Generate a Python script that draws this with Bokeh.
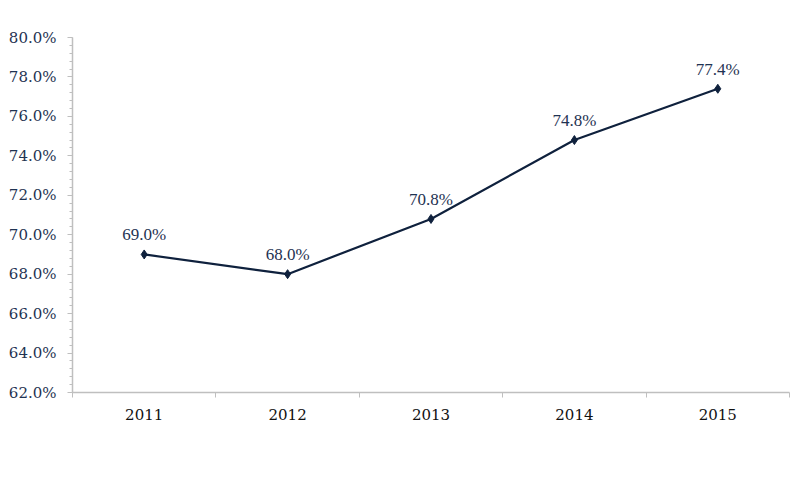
from bokeh.plotting import figure
from bokeh.models import Range1d, FixedTicker, ColumnDataSource, LabelSet, PrintfTickFormatter
from bokeh.embed import file_html
from bokeh.resources import INLINE

years = ["2011", "2012", "2013", "2014", "2015"]
values = [69.0, 68.0, 70.8, 74.8, 77.4]
labels = ["69.0%", "68.0%", "70.8%", "74.8%", "77.4%"]

FONT = "DejaVu Serif"
TXT = "#1f3352"
LINE = "#0f213d"
AX = "#bfbfbf"

xs = [i + 0.5 for i in range(len(years))]
src = ColumnDataSource(dict(x=xs, y=values, lab=labels))

p = figure(width=798, height=470, output_backend="svg", toolbar_location=None,
           x_range=Range1d(0, len(years)), y_range=Range1d(62, 80),
           min_border_left=72, min_border_right=9, min_border_top=37, min_border_bottom=78)
p.outline_line_color = None
p.grid.grid_line_color = None
p.background_fill_color = "white"
p.border_fill_color = "white"

p.line("x", "y", source=src, line_color=LINE, line_width=2.2)
p.scatter("x", "y", source=src, marker="diamond", size=9, color=LINE)

lbl = LabelSet(x="x", y="y", text="lab", source=src, text_align="center",
               text_baseline="bottom", y_offset=10, text_font=FONT,
               text_font_size="17px", text_color=TXT)
p.add_layout(lbl)

# x axis
xa = p.xaxis[0]
xa.ticker = FixedTicker(ticks=xs, minor_ticks=list(range(len(years) + 1)))
xa.major_label_overrides = {x: y for x, y in zip(xs, years)}
xa.major_tick_in = 0
xa.major_tick_out = 0
xa.minor_tick_in = 0
xa.minor_tick_out = 5
xa.minor_tick_line_color = AX
xa.axis_line_color = AX
xa.axis_line_width = 1.5
xa.major_label_standoff = 11
xa.major_label_text_font = FONT
xa.major_label_text_font_size = "15px"
xa.major_label_text_color = "#111111"

# y axis
ya = p.yaxis[0]
majors = list(range(62, 81, 2))
minors = [62 + 0.4 * i for i in range(46)]
ya.ticker = FixedTicker(ticks=majors, minor_ticks=minors)
ya.formatter = PrintfTickFormatter(format="%.1f%%")
ya.major_tick_in = 0
ya.major_tick_out = 5
ya.minor_tick_in = 0
ya.minor_tick_out = 3
ya.major_tick_line_color = AX
ya.minor_tick_line_color = AX
ya.axis_line_color = AX
ya.axis_line_width = 1.5
ya.major_label_standoff = 11
ya.major_label_text_font = FONT
ya.major_label_text_font_size = "15px"
ya.major_label_text_color = TXT

open("out.html", "w").write(file_html(p, INLINE))
